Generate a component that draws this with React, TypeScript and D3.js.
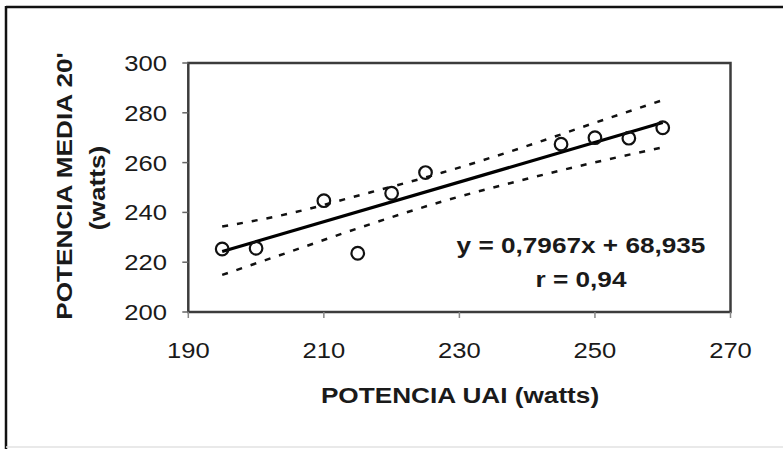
import React from "react";
import * as d3 from "d3";

const potenciaUAI = [195, 200, 210, 215, 220, 225, 245, 250, 255, 260];
const potenciaMedia = [225.3, 225.6, 244.7, 223.6, 247.7, 256.0, 267.4, 270.0, 269.8, 274.0];

const bandX = [195, 205, 215, 227.5, 240, 250, 260];
const upperBand = [234.3, 239.6, 246.7, 256.0, 266.7, 276.0, 285.1];
const lowerBand = [214.9, 224.2, 233.6, 244.4, 253.5, 260.1, 266.1];

const slope = 0.7967;
const intercept = 68.935;
const fitRange = [195, 260];

const xTicks = [190, 210, 230, 250, 270];
const yTicks = [200, 220, 240, 260, 280, 300];

const equationLabel = "y = 0,7967x + 68,935";
const rLabel = "r = 0,94";
const xTitle = "POTENCIA UAI (watts)";
const yTitle1 = "POTENCIA MEDIA 20'";
const yTitle2 = "(watts)";

const W = 783;
const H = 449;
const SX = 1.19;
const FONT = "'Liberation Sans', Arial, sans-serif";

export default function App() {
  const x = d3.scaleLinear().domain([190, 270]).range([188.3, 730.5]);
  const y = d3.scaleLinear().domain([200, 300]).range([312, 63]);

  const bandLine = d3
    .line<number>()
    .x((_, i) => x(bandX[i]))
    .curve(d3.curveMonotoneX);
  const upperPath = bandLine.y((d) => y(d))(upperBand) as string;
  const lowerPath = bandLine.y((d) => y(d))(lowerBand) as string;

  const fit = d3
    .line<number>()
    .x((d) => x(d))
    .y((d) => y(slope * d + intercept))(fitRange) as string;

  const T = (
    tx: number,
    ty: number,
    s: string,
    opts: { anchor?: string; size?: number; bold?: boolean; rotate?: number } = {}
  ) => (
    <g transform={`translate(${tx},${ty}) rotate(${opts.rotate || 0}) scale(${SX},1)`}>
      <text
        textAnchor={opts.anchor || "middle"}
        fontFamily={FONT}
        fontSize={opts.size || 21.5}
        fontWeight={opts.bold ? "bold" : "normal"}
        fill="#1a1a1a"
      >
        {s}
      </text>
    </g>
  );

  return (
    <svg
      width={W}
      height={H}
      style={{ position: "absolute", left: 0, top: 0, background: "#fff" }}
    >
      <rect x={0} y={0} width={W} height={H} fill="#fff" />
      {/* outer frame */}
      <line x1={6} y1={7} x2={W} y2={7} stroke="#111" strokeWidth={2.5} />
      <line x1={6} y1={6} x2={6} y2={H} stroke="#111" strokeWidth={2.5} />
      <line x1={6} y1={447} x2={W} y2={447} stroke="#e2e2e2" strokeWidth={1.5} />

      {/* plot area */}
      <rect
        x={x(190)}
        y={y(300)}
        width={x(270) - x(190)}
        height={y(200) - y(300)}
        fill="#fff"
        stroke="#3c3c3c"
        strokeWidth={2.5}
      />

      {/* y ticks */}
      {yTicks.map((t) => (
        <g key={"y" + t}>
          <line x1={x(190) - 6} x2={x(190)} y1={y(t)} y2={y(t)} stroke="#666" strokeWidth={1.5} />
          {T(167, y(t) + 8, String(t), { anchor: "end" })}
        </g>
      ))}
      {/* x ticks */}
      {xTicks.map((t) => (
        <g key={"x" + t}>
          <line x1={x(t)} x2={x(t)} y1={y(200)} y2={y(200) + 6} stroke="#888" strokeWidth={1.5} />
          {T(x(t), 358, String(t))}
        </g>
      ))}

      {/* confidence bands */}
      <path d={upperPath} fill="none" stroke="#111" strokeWidth={2.5} strokeDasharray="6 9" />
      <path d={lowerPath} fill="none" stroke="#111" strokeWidth={2.5} strokeDasharray="6 9" />

      {/* regression line */}
      <path d={fit} fill="none" stroke="#000" strokeWidth={3.2} />

      {/* points */}
      {potenciaUAI.map((v, i) => (
        <circle
          key={"p" + i}
          cx={x(v)}
          cy={y(potenciaMedia[i])}
          r={6.3}
          fill="none"
          stroke="#111"
          strokeWidth={2.2}
        />
      ))}

      {/* annotations */}
      {T(581, 253, equationLabel, { bold: true, size: 22 })}
      {T(581, 287, rLabel, { bold: true, size: 22 })}

      {/* axis titles */}
      {T(460, 403, xTitle, { bold: true, size: 22 })}
      {T(72, 186, yTitle1, { bold: true, size: 22, rotate: -90 })}
      {T(105, 188, yTitle2, { bold: true, size: 22, rotate: -90 })}
    </svg>
  );
}
